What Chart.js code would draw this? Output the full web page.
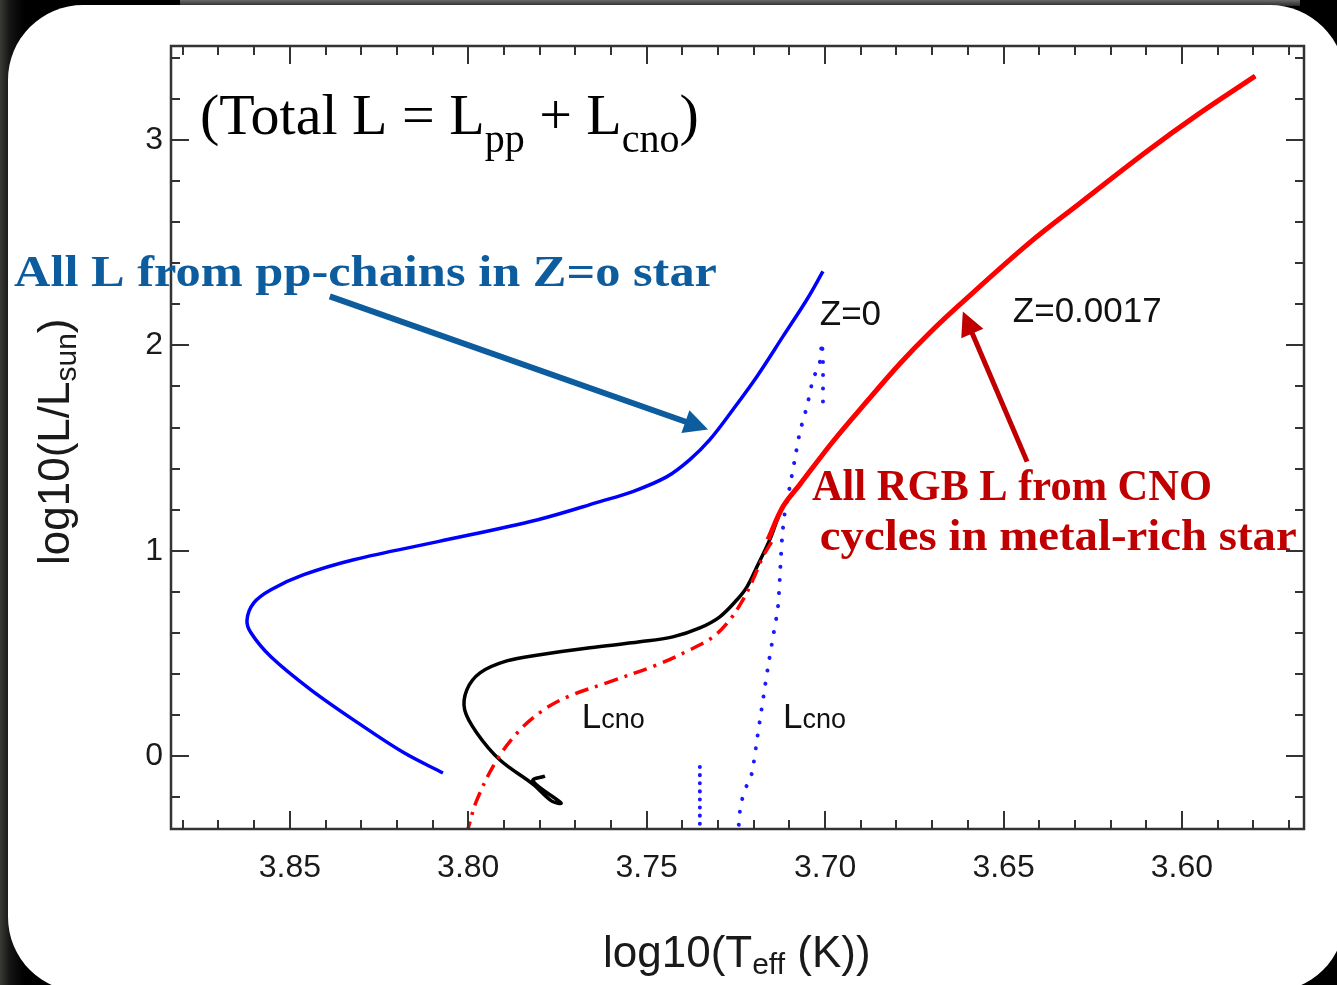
<!DOCTYPE html>
<html>
<head>
<meta charset="utf-8">
<title>Z=0 vs Z=0.0017 tracks</title>
<script src="https://cdn.jsdelivr.net/npm/chart.js@4.4.0/dist/chart.umd.min.js"></script>
<style>
  html, body { margin: 0; padding: 0; width: 1337px; height: 985px; overflow: hidden; background: #050505; }
  #bg { position: absolute; left: 0; top: 0; width: 1337px; height: 985px;
        background: linear-gradient(90deg, #3b3a36 0px, #141414 10px, #000 24px); }
  #topband { position: absolute; left: 180px; top: 0; width: 1120px; height: 6px;
        background: linear-gradient(180deg, #6a6a6a, #2a2a2a); }
  #card { position: absolute; left: 8px; top: 5px; width: 1337px; height: 987px; background: #fff; border-radius: 75px; }
  #chart { position: absolute; left: 0; top: 0; }
</style>
</head>
<body>
<div id="bg"></div>
<div id="topband"></div>
<div id="card"></div>
<canvas id="chart" width="1337" height="985"></canvas>
<script>
// Z=0 track, total luminosity (blue solid)
const teffZ0Total = [3.8071, 3.8180, 3.8309, 3.8441, 3.8553, 3.8609, 3.8620, 3.8601, 3.8553, 3.8461, 3.8321,
  3.8085, 3.7805, 3.7631, 3.7539, 3.7443, 3.7379, 3.7323, 3.7258, 3.7191, 3.7118, 3.7051, 3.7006];
const lumZ0Total = [-0.083, 0.015, 0.161, 0.322, 0.483, 0.600, 0.663, 0.746, 0.810, 0.883, 0.956,
  1.044, 1.151, 1.239, 1.288, 1.361, 1.444, 1.541, 1.688, 1.849, 2.044, 2.224, 2.361];

// Z=0 track, CNO luminosity (blue dotted)
const teffZ0Cno = [3.7006, 3.7006, 3.7009, 3.7015, 3.7034, 3.7051, 3.7071, 3.7085, 3.7099, 3.7113, 3.7121,
  3.7132, 3.7146, 3.7160, 3.7169, 3.7177, 3.7191, 3.7205, 3.7219, 3.7233, 3.7239, 3.7244];
const lumZ0Cno = [1.727, 1.922, 2.015, 1.917, 1.834, 1.702, 1.576, 1.444, 1.312, 1.185, 1.054,
  0.727, 0.580, 0.434, 0.332, 0.239, 0.078, -0.083, -0.141, -0.215, -0.273, -0.385];
const teffZ0CnoTail = [3.7351, 3.7351];
const lumZ0CnoTail = [-0.054, -0.400];

// Z=0.0017 track, total luminosity (black solid)
const teffZ17Total = [3.7785, 3.7819, 3.7740, 3.7766, 3.7819, 3.7911, 3.7976, 3.8010, 3.8004, 3.7967, 3.7892,
  3.7799, 3.7659, 3.7519, 3.7427, 3.7351, 3.7295, 3.7247, 3.7219, 3.7191, 3.7155, 3.7118, 3.7071, 3.6978,
  3.6883, 3.6790, 3.6706, 3.6622, 3.6426, 3.6286, 3.6098, 3.5958, 3.5795];
const lumZ17Total = [-0.098, -0.122, -0.229, -0.220, -0.137, -0.020, 0.112, 0.224, 0.322, 0.405, 0.463,
  0.493, 0.527, 0.556, 0.580, 0.624, 0.678, 0.761, 0.824, 0.922, 1.054, 1.215, 1.322, 1.532,
  1.727, 1.912, 2.063, 2.200, 2.502, 2.693, 2.946, 3.122, 3.312];

// Z=0.0017 track, CNO luminosity (red dash-dot, then solid on the RGB)
const teffZ17Cno = [3.8007, 3.8001, 3.7976, 3.7920, 3.7855, 3.7785, 3.7715, 3.7612, 3.7471, 3.7379, 3.7314,
  3.7267, 3.7230, 3.7202, 3.7174, 3.7146];
const lumZ17Cno = [-0.385, -0.356, -0.215, -0.020, 0.127, 0.229, 0.293, 0.356, 0.444, 0.517, 0.580,
  0.663, 0.761, 0.859, 0.971, 1.054];
const teffZ17Rgb = [3.7160, 3.7118, 3.7071, 3.6978, 3.6883, 3.6790, 3.6706, 3.6622, 3.6426, 3.6286, 3.6098,
  3.5958, 3.5795];
const lumZ17Rgb = [1.054, 1.215, 1.322, 1.532, 1.727, 1.912, 2.063, 2.200, 2.502, 2.693, 2.946, 3.122, 3.312];

// axis range and ticks
const xMin = 3.5658, xMax = 3.8833;
const yMin = -0.356, yMax = 3.459;
const xMinorTicks = [];
for (let i = 357; i <= 388; i++) xMinorTicks.push(i / 100);
const yMinorTicks = [];
for (let j = -1; j <= 17; j++) yMinorTicks.push(j / 5);

function pts(xs, ys) {
  return xs.map((x, i) => ({ x: x, y: ys[i] }));
}

function line(data, color, width, dash, tension) {
  return {
    data: data, showLine: true, pointRadius: 0, borderColor: color, borderWidth: width,
    borderDash: dash || [], borderCapStyle: dash && dash[0] < 1 ? 'round' : 'butt',
    borderJoinStyle: 'round',
    tension: tension === undefined ? 0.35 : tension, fill: false
  };
}

function drawRuns(ctx, runs, x, y) {
  runs.forEach(r => {
    ctx.font = r.font;
    ctx.fillText(r.t, x, y + (r.dy || 0));
    x += ctx.measureText(r.t).width;
  });
}

function drawFit(ctx, text, x, y, font, color, width) {
  ctx.save();
  ctx.font = font;
  ctx.fillStyle = color;
  const w = ctx.measureText(text).width;
  ctx.translate(x, y);
  ctx.scale(width / w, 1);
  ctx.fillText(text, 0, 0);
  ctx.restore();
}

function arrow(ctx, x1, y1, x2, y2, color, w, head) {
  const a = Math.atan2(y2 - y1, x2 - x1);
  const c = Math.cos(a), s = Math.sin(a);
  ctx.strokeStyle = color;
  ctx.fillStyle = color;
  ctx.lineWidth = w;
  ctx.lineCap = 'butt';
  ctx.beginPath();
  ctx.moveTo(x1, y1);
  ctx.lineTo(x2 - head * 0.8 * c, y2 - head * 0.8 * s);
  ctx.stroke();
  ctx.beginPath();
  ctx.moveTo(x2, y2);
  ctx.lineTo(x2 - head * c - head * 0.5 * s, y2 - head * s + head * 0.5 * c);
  ctx.lineTo(x2 - head * c + head * 0.5 * s, y2 - head * s - head * 0.5 * c);
  ctx.closePath();
  ctx.fill();
}

const frameAndNotes = {
  id: 'frameAndNotes',
  afterDraw(chart) {
    const { ctx, chartArea: a, scales: { x, y } } = chart;
    ctx.save();

    // inward ticks on all four sides
    ctx.strokeStyle = '#333';
    ctx.lineWidth = 2;
    ctx.beginPath();
    xMinorTicks.forEach(v => {
      const px = Math.round(x.getPixelForValue(v));
      const len = Math.round(v * 100) % 5 === 0 ? 18 : 9;
      ctx.moveTo(px, a.bottom); ctx.lineTo(px, a.bottom - len);
      ctx.moveTo(px, a.top); ctx.lineTo(px, a.top + len);
    });
    yMinorTicks.forEach(v => {
      const py = Math.round(y.getPixelForValue(v));
      const len = Math.abs(v - Math.round(v)) < 1e-6 ? 18 : 9;
      ctx.moveTo(a.left, py); ctx.lineTo(a.left + len, py);
      ctx.moveTo(a.right, py); ctx.lineTo(a.right - len, py);
    });
    ctx.stroke();
    ctx.lineWidth = 2.5;
    ctx.strokeRect(a.left, a.top, a.right - a.left, a.bottom - a.top);

    // axis titles
    ctx.fillStyle = '#1a1a1a';
    ctx.textBaseline = 'alphabetic';
    const big = '44px "Liberation Sans", Arial, sans-serif';
    const small = '30px "Liberation Sans", Arial, sans-serif';
    drawRuns(ctx, [{ t: 'log10(T', font: big }, { t: 'eff', font: small, dy: 7 }, { t: ' (K))', font: big }], 603, 967);
    ctx.save();
    ctx.translate(69, 565);
    ctx.rotate(-Math.PI / 2);
    drawRuns(ctx, [{ t: 'log10(L/L', font: big }, { t: 'sun', font: small, dy: 7 }, { t: ')', font: big }], 0, 0);
    ctx.restore();

    // curve labels
    const X = v => x.getPixelForValue(v);
    const Y = v => y.getPixelForValue(v);
    ctx.fillStyle = '#111';
    ctx.font = '35px "Liberation Sans", Arial, sans-serif';
    ctx.fillText('Z=0', X(3.7015), Y(2.102));
    ctx.fillText('Z=0.0017', X(3.6474), Y(2.112));
    const lBig = '35px "Liberation Sans", Arial, sans-serif';
    const lSmall = '27px "Liberation Sans", Arial, sans-serif';
    drawRuns(ctx, [{ t: 'L', font: lBig }, { t: 'cno', font: lSmall }], X(3.7682), Y(0.137));
    drawRuns(ctx, [{ t: 'L', font: lBig }, { t: 'cno', font: lSmall }], X(3.7118), Y(0.137));

    // title formula
    ctx.fillStyle = '#000';
    const serifBig = '58px "Liberation Serif", "Times New Roman", serif';
    const serifSmall = '40px "Liberation Serif", "Times New Roman", serif';
    drawRuns(ctx, [
      { t: '(Total L = L', font: serifBig },
      { t: 'pp', font: serifSmall, dy: 18 },
      { t: ' + L', font: serifBig },
      { t: 'cno', font: serifSmall, dy: 18 },
      { t: ')', font: serifBig }
    ], X(3.8752), Y(3.029));

    // call-out texts and arrows
    const bold = 'bold 45px "Liberation Serif", "Times New Roman", serif';
    const blueNote = '#0c5c9e';
    const redNote = '#c00000';
    drawFit(ctx, 'All L from pp-chains in Z=o star', X(3.9273), Y(2.288), bold, blueNote, 703);
    drawFit(ctx, 'All RGB L from CNO', X(3.7037), Y(1.249), bold, redNote, 400);
    drawFit(ctx, 'cycles in metal-rich star', X(3.7015), Y(1.005), bold, redNote, 477);
    arrow(ctx, X(3.8388), Y(2.239), X(3.7328), Y(1.590), blueNote, 6, 24);
    arrow(ctx, X(3.6434), Y(1.434), X(3.6614), Y(2.166), redNote, 5, 24);

    ctx.restore();
  }
};

const tickFont = { family: '"Liberation Sans", Arial, sans-serif', size: 32 };

// first dataset is drawn on top
new Chart(document.getElementById('chart').getContext('2d'), {
  type: 'scatter',
  data: {
    datasets: [
      line(pts(teffZ17Rgb, lumZ17Rgb), '#ff0000', 5),
      line(pts(teffZ0Cno, lumZ0Cno), '#1a1aff', 4, [0.1, 13], 0.2),
      line(pts(teffZ0CnoTail, lumZ0CnoTail), '#1a1aff', 4, [0.1, 8], 0),
      line(pts(teffZ17Cno, lumZ17Cno), '#ff0000', 3.5, [14, 7, 3, 7]),
      line(pts(teffZ17Total, lumZ17Total), '#000000', 3.5),
      line(pts(teffZ0Total, lumZ0Total), '#0000ff', 3.5)
    ]
  },
  options: {
    responsive: false,
    animation: false,
    layout: { padding: { top: 46, right: 33, left: 0, bottom: 0 } },
    plugins: { legend: { display: false }, tooltip: { enabled: false } },
    scales: {
      x: {
        type: 'linear', reverse: true, min: xMin, max: xMax,
        afterFit: s => { s.height = 156; },
        grid: { display: false, drawTicks: false },
        border: { display: false },
        ticks: {
          stepSize: 0.05, includeBounds: false, padding: 20, color: '#1a1a1a', font: tickFont,
          maxRotation: 0, autoSkip: false, callback: v => v.toFixed(2)
        }
      },
      y: {
        type: 'linear', min: yMin, max: yMax,
        afterFit: s => { s.width = 171; },
        grid: { display: false, drawTicks: false },
        border: { display: false },
        ticks: {
          stepSize: 1, includeBounds: false, padding: 8, color: '#1a1a1a', font: tickFont,
          callback: v => String(Math.round(v))
        }
      }
    }
  },
  plugins: [frameAndNotes]
});
</script>
</body>
</html>
